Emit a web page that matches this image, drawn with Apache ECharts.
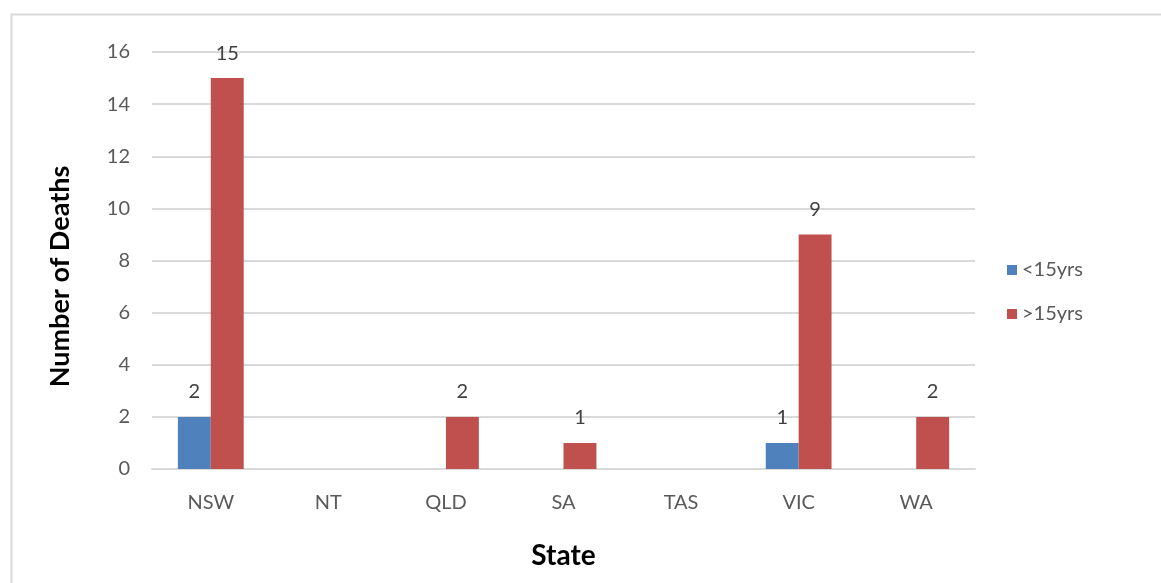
<!DOCTYPE html>
<html>
<head>
<meta charset="utf-8">
<script src="https://cdn.jsdelivr.net/npm/echarts@6/dist/echarts.min.js"></script>
<style>
html,body{margin:0;padding:0;background:#fff;}
#chart{width:1161px;height:583px;}
</style>
</head>
<body>
<div id="chart"></div>
<script>
const categories = ['NSW', 'NT', 'QLD', 'SA', 'TAS', 'VIC', 'WA'];
const under15 = [2, 0, 0, 0, 0, 1, 0];
const over15 = [15, 0, 2, 1, 0, 9, 2];
const seriesNames = ['<15yrs', '>15yrs'];
const yTicks = { min: 0, max: 16, interval: 2 };

const font = 'Lato, "Open Sans", sans-serif';
const chart = echarts.init(document.getElementById('chart'));
const labelCfg = {
  show: true,
  position: 'top',
  distance: 15,
  color: '#404040',
  fontSize: 20,
  fontFamily: font,
  formatter: p => (p.value ? String(p.value) : '')
};
chart.setOption({
  animation: false,
  backgroundColor: '#fff',
  graphic: [{
    type: 'rect',
    left: 9, top: 12,
    shape: { width: 1200, height: 700 },
    style: { fill: 'none', stroke: '#d9d9d9', lineWidth: 2 },
    z: -10
  }],
  grid: { left: 152, right: 186, top: 52, bottom: 114, containLabel: false },
  legend: {
    orient: 'vertical',
    left: 1002,
    top: 255,
    itemWidth: 10,
    itemHeight: 10,
    itemGap: 24,
    icon: 'rect',
    textStyle: { color: '#595959', fontSize: 20, fontFamily: font },
    data: seriesNames
  },
  xAxis: {
    type: 'category',
    data: categories,
    name: 'State',
    nameLocation: 'middle',
    nameGap: 73,
    nameTextStyle: { color: '#000', fontSize: 28, fontWeight: 'bold', fontFamily: font },
    axisLine: { show: true, lineStyle: { color: '#d9d9d9', width: 2 } },
    axisTick: { show: false },
    axisLabel: { color: '#595959', fontSize: 20, fontFamily: font, margin: 24 }
  },
  yAxis: {
    type: 'value',
    min: yTicks.min, max: yTicks.max, interval: yTicks.interval,
    name: 'Number of Deaths',
    nameLocation: 'middle',
    nameGap: 78,
    nameTextStyle: { color: '#000', fontSize: 27, fontWeight: 'bold', fontFamily: font, padding: [0, 32, 0, 0] },
    axisLine: { show: false },
    axisTick: { show: false },
    axisLabel: { color: '#595959', fontSize: 20, fontFamily: font, margin: 22 },
    splitLine: { lineStyle: { color: '#d9d9d9', width: 2 } }
  },
  series: [
    {
      name: seriesNames[0], type: 'bar', data: under15,
      barWidth: '28%', barGap: '0%',
      itemStyle: { color: '#4f81bd' },
      label: labelCfg
    },
    {
      name: seriesNames[1], type: 'bar', data: over15,
      barWidth: '28%', barGap: '0%',
      itemStyle: { color: '#c0504d' },
      label: labelCfg
    }
  ]
});
</script>
</body>
</html>
